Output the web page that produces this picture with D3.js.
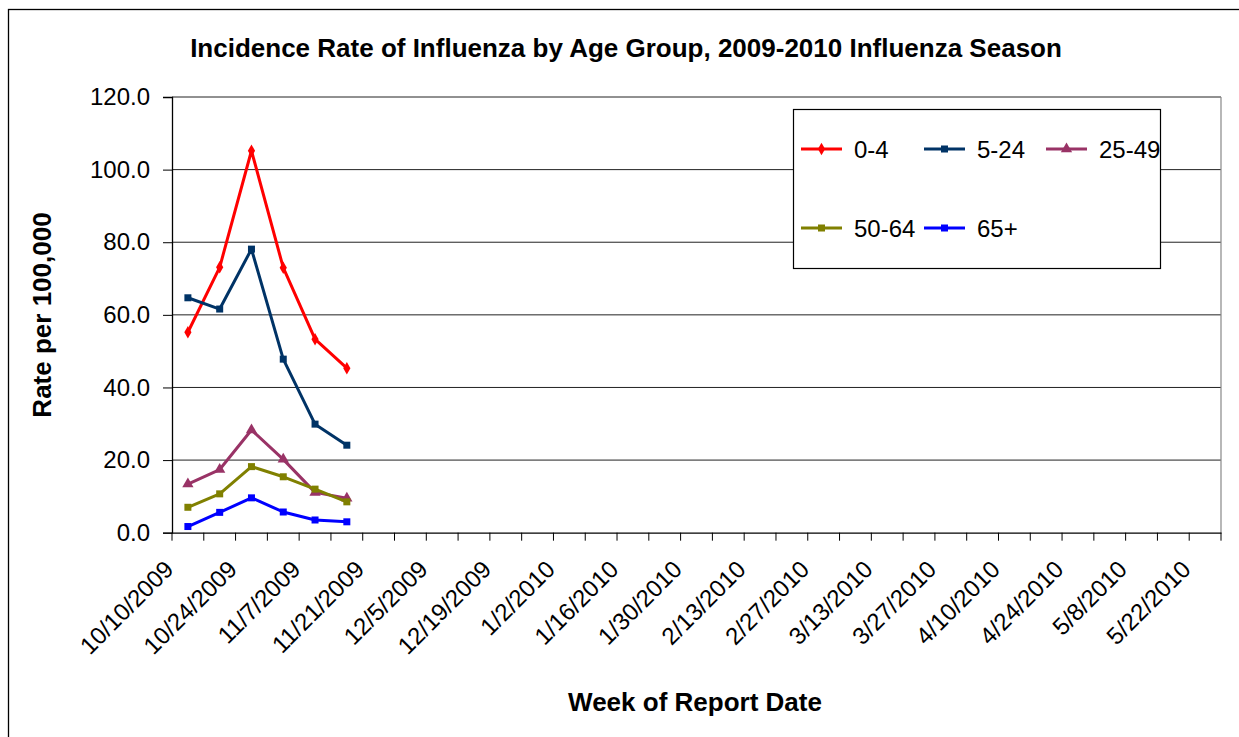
<!DOCTYPE html>
<html><head><meta charset="utf-8">
<script src="https://cdn.jsdelivr.net/npm/d3@7"></script>
<style>body{margin:0;background:#fff;} text{font-family:"Liberation Sans",Arial,sans-serif;}</style>
</head><body>
<svg id="c" width="1239" height="737"></svg>
<script>
const weeks = ["10/10/2009","10/17/2009","10/24/2009","10/31/2009","11/7/2009","11/14/2009","11/21/2009","11/28/2009","12/5/2009","12/12/2009","12/19/2009","12/26/2009","1/2/2010","1/9/2010","1/16/2010","1/23/2010","1/30/2010","2/6/2010","2/13/2010","2/20/2010","2/27/2010","3/6/2010","3/13/2010","3/20/2010","3/27/2010","4/3/2010","4/10/2010","4/17/2010","4/24/2010","5/1/2010","5/8/2010","5/15/2010","5/22/2010"];
const seriesNames = ["0-4","5-24","25-49","50-64","65+"];
const age0_4   = [55.2, 73.1, 105.2, 73.0, 53.3, 45.3];
const age5_24  = [64.7, 61.6, 78.1, 47.8, 29.9, 24.1];
const age25_49 = [13.4, 17.4, 28.3, 20.2, 11.1, 9.5];
const age50_64 = [7.0, 10.7, 18.2, 15.4, 12.0, 8.5];
const age65    = [1.7, 5.6, 9.6, 5.7, 3.5, 3.0];
const yTicks = [0,20,40,60,80,100,120];
const colors = ["#ff0000","#003366","#993366","#808000","#0000ff"];
const markers = ["diamond","square","triangle","square","square"];

const series = [age0_4, age5_24, age25_49, age50_64, age65].map((v,i)=>({name:seriesNames[i], values:v, color:colors[i], marker:markers[i]}));

const svg = d3.select("#c");
const L=172, R=1221, T=97, B=532.7;
svg.append("rect").attr("x",8.5).attr("y",9.5).attr("width",1240).attr("height",740).attr("fill","#fff").attr("stroke","#000").attr("stroke-width",1.3);

const x = d3.scaleBand().domain(weeks).range([L,R]);
const y = d3.scaleLinear().domain([0,120]).range([B,T]);

// gridlines
svg.append("g").selectAll("line").data(yTicks.filter(d=>d>0)).join("line")
  .attr("x1",L).attr("x2",R).attr("y1",d=>y(d)).attr("y2",d=>y(d)).attr("stroke","#222").attr("stroke-width",1);
// right border of plot
svg.append("line").attr("x1",R).attr("x2",R).attr("y1",T).attr("y2",B).attr("stroke","#888").attr("stroke-width",1.2);

// y axis
const ya = svg.append("g").attr("transform",`translate(${L},0)`).call(d3.axisLeft(y).tickValues(yTicks).tickFormat(d3.format(".1f")).tickSize(9).tickPadding(13));
ya.select(".domain").attr("stroke","#000").attr("stroke-width",1.3);
ya.selectAll("line").attr("stroke","#000");
ya.selectAll("text").attr("font-size",24).attr("fill","#000").attr("font-family","Liberation Sans, Arial, sans-serif");

// x axis
const xa = svg.append("g").attr("transform",`translate(0,${B})`).call(d3.axisBottom(x).tickValues([]).tickSize(0));
xa.select(".domain").attr("stroke","#000").attr("stroke-width",1.3);
const bounds = weeks.map((w)=>x(w)).concat([R]);
svg.append("g").selectAll("line").data(bounds).join("line")
  .attr("x1",d=>d).attr("x2",d=>d).attr("y1",B).attr("y2",B+8).attr("stroke","#000").attr("stroke-width",1);
svg.append("g").selectAll("text").data(weeks.filter((w,i)=>i%2===0)).join("text")
  .attr("text-anchor","end").attr("font-size",24).attr("fill","#000")
  .attr("transform",d=>`translate(${x(d)+x.bandwidth()/2-13},${B+38}) rotate(-45)`)
  .text(d=>d);

// lines
const line = d3.line().x((d,i)=>x(weeks[i])+x.bandwidth()/2).y(d=>y(d));
function marker(g, type, color, cx, cy){
  if(type==="diamond"){
    g.append("path").attr("d",d3.symbol(d3.symbolDiamond,45)()).attr("transform",`translate(${cx},${cy})`).attr("fill",color);
  } else if(type==="triangle"){
    g.append("path").attr("d",d3.symbol(d3.symbolTriangle,55)()).attr("transform",`translate(${cx},${cy})`).attr("fill",color);
  } else {
    g.append("rect").attr("x",cx-3.5).attr("y",cy-3.5).attr("width",7).attr("height",7).attr("fill",color);
  }
}
series.forEach(s=>{
  const g = svg.append("g");
  g.append("path").datum(s.values).attr("d",line).attr("fill","none").attr("stroke",s.color).attr("stroke-width",3).attr("stroke-linejoin","round");
  s.values.forEach((v,i)=>marker(g,s.marker,s.color,x(weeks[i])+x.bandwidth()/2,y(v)));
});

// legend
svg.append("rect").attr("x",793.5).attr("y",109.5).attr("width",367).attr("height",159).attr("fill","#fff").attr("stroke","#000").attr("stroke-width",1.2);
const legPos = [[801,149],[924,149],[1046,149],[801,228],[924,228]];
series.forEach((s,i)=>{
  const [lx,ly] = legPos[i];
  const g = svg.append("g");
  g.append("line").attr("x1",lx).attr("x2",lx+41).attr("y1",ly).attr("y2",ly).attr("stroke",s.color).attr("stroke-width",3);
  marker(g,s.marker,s.color,lx+20.5,ly);
  g.append("text").attr("x",lx+53).attr("y",ly+8.5).attr("font-size",24).attr("fill","#000").text(s.name);
});

// titles
svg.append("text").attr("x",626).attr("y",57).attr("text-anchor","middle").attr("font-size",26).attr("font-weight","bold").text("Incidence Rate of Influenza by Age Group, 2009-2010 Influenza Season");
svg.append("text").attr("transform","translate(51,315) rotate(-90)").attr("text-anchor","middle").attr("font-size",26).attr("font-weight","bold").text("Rate per 100,000");
svg.append("text").attr("x",695).attr("y",711).attr("text-anchor","middle").attr("font-size",26).attr("font-weight","bold").text("Week of Report Date");
</script>
</body></html>
